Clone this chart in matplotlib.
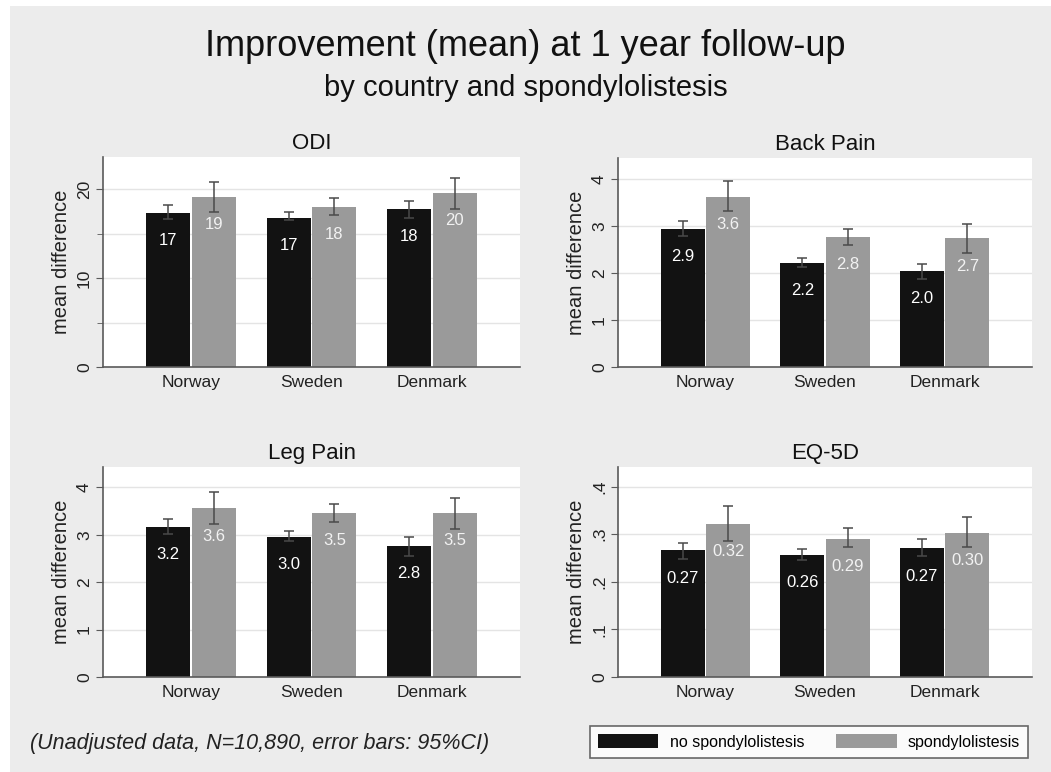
import matplotlib
matplotlib.use("Agg")
import matplotlib.pyplot as plt
from matplotlib.patches import Rectangle, Patch
import numpy as np

plt.rcParams['font.family'] = ['Liberation Sans', 'DejaVu Sans']

countries = ["Norway", "Sweden", "Denmark"]
groups = ["no spondylolistesis", "spondylolistesis"]

panels = ["ODI", "Back Pain", "Leg Pain", "EQ-5D"]

# mean values: [no spondy, spondy] per country
odi_no = [17.3, 16.8, 17.75]
odi_sp = [19.1, 18.0, 19.6]
odi_no_lo = [16.6, 16.5, 16.8]
odi_no_hi = [18.2, 17.4, 18.7]
odi_sp_lo = [17.4, 17.1, 17.8]
odi_sp_hi = [20.8, 18.95, 21.2]

back_no = [2.94, 2.22, 2.04]
back_sp = [3.62, 2.77, 2.74]
back_no_lo = [2.79, 2.13, 1.87]
back_no_hi = [3.11, 2.33, 2.20]
back_sp_lo = [3.33, 2.60, 2.42]
back_sp_hi = [3.96, 2.94, 3.05]

leg_no = [3.16, 2.96, 2.76]
leg_sp = [3.56, 3.47, 3.46]
leg_no_lo = [3.02, 2.87, 2.55]
leg_no_hi = [3.33, 3.08, 2.95]
leg_sp_lo = [3.23, 3.28, 3.12]
leg_sp_hi = [3.91, 3.66, 3.78]

eq_no = [0.266, 0.256, 0.270]
eq_sp = [0.321, 0.290, 0.303]
eq_no_lo = [0.247, 0.245, 0.254]
eq_no_hi = [0.282, 0.269, 0.289]
eq_sp_lo = [0.285, 0.274, 0.272]
eq_sp_hi = [0.359, 0.312, 0.335]

odi_ticks = [0, 10, 20]
odi_ticklabels = ["0", "10", "20"]
odi_minor = [5, 15]
back_ticks = [0, 1, 2, 3, 4]
back_ticklabels = ["0", "1", "2", "3", "4"]
leg_ticks = [0, 1, 2, 3, 4]
leg_ticklabels = ["0", "1", "2", "3", "4"]
eq_ticks = [0, 0.1, 0.2, 0.3, 0.4]
eq_ticklabels = ["0", ".1", ".2", ".3", ".4"]

note = "(Unadjusted data, N=10,890, error bars: 95%CI)"
title = "Improvement (mean) at 1 year follow-up"
subtitle = "by country and spondylolistesis"

W, H = 1051, 772
fig = plt.figure(figsize=(W / 100, H / 100), dpi=100)
fig.patch.set_facecolor("white")
BG = "#ececec"
fig.add_artist(Rectangle((10 / W, 0), 1 - 10 / W, 1 - 6 / H, transform=fig.transFigure,
                         facecolor=BG, edgecolor="none", zorder=-10))

BLACK = "#121212"
GRAY = "#9a9a9a"
ERR = "#4a4a4a"
AX = "#5a5a5a"

def axrect(l, r, t, b):
    return [l / W, 1 - b / H, (r - l) / W, (b - t) / H]

specs = [
    ("ODI", axrect(103, 520, 157, 367), odi_no, odi_sp, odi_no_lo, odi_no_hi, odi_sp_lo, odi_sp_hi,
     23.6, odi_ticks, odi_ticklabels, odi_minor, "{:.0f}"),
    ("Back Pain", axrect(618, 1032, 158, 367), back_no, back_sp, back_no_lo, back_no_hi, back_sp_lo, back_sp_hi,
     4.45, back_ticks, back_ticklabels, [], "{:.1f}"),
    ("Leg Pain", axrect(103, 520, 467, 677), leg_no, leg_sp, leg_no_lo, leg_no_hi, leg_sp_lo, leg_sp_hi,
     4.43, leg_ticks, leg_ticklabels, [], "{:.1f}"),
    ("EQ-5D", axrect(618, 1032, 467, 677), eq_no, eq_sp, eq_no_lo, eq_no_hi, eq_sp_lo, eq_sp_hi,
     0.441, eq_ticks, eq_ticklabels, [], "{:.2f}"),
]

x = np.arange(len(countries))
bw = 0.366
off = 0.19

for (name, rect, v_no, v_sp, no_lo, no_hi, sp_lo, sp_hi, ymax, ticks, tlabels, minor, fmt) in specs:
    ax = fig.add_axes(rect)
    ax.set_facecolor("white")
    ax.set_xlim(-0.73, 2.73)
    ax.set_ylim(0, ymax)
    gridvals = sorted([t for t in ticks if t > 0] + list(minor))
    for g in gridvals:
        ax.axhline(g, color="#e4e4e4", lw=1.0, zorder=0)
    ax.bar(x - off, v_no, bw, color=BLACK, zorder=2)
    ax.bar(x + off, v_sp, bw, color=GRAY, zorder=2)
    v_no_a = np.array(v_no); v_sp_a = np.array(v_sp)
    ax.errorbar(x - off, v_no_a, yerr=[v_no_a - np.array(no_lo), np.array(no_hi) - v_no_a],
                fmt="none", ecolor=ERR, elinewidth=1.1, capsize=3.8, capthick=1.1, zorder=3)
    ax.errorbar(x + off, v_sp_a, yerr=[v_sp_a - np.array(sp_lo), np.array(sp_hi) - v_sp_a],
                fmt="none", ecolor=ERR, elinewidth=1.1, capsize=3.8, capthick=1.1, zorder=3)
    for xi, v in zip(x - off, v_no):
        ax.annotate(fmt.format(v), (xi, v), xytext=(0, -20), textcoords="offset points",
                    ha="center", va="center", color="white", fontsize=12, zorder=4)
    for xi, v in zip(x + off, v_sp):
        ax.annotate(fmt.format(v), (xi, v), xytext=(0, -20), textcoords="offset points",
                    ha="center", va="center", color="#f2f2f2", fontsize=12, zorder=4)
    ax.set_xticks(x)
    ax.set_xticklabels(countries, fontsize=12.5)
    ax.tick_params(axis="x", length=0, pad=6, colors="#222222")
    ax.set_yticks(ticks)
    ax.set_yticklabels(tlabels, rotation=90, va="center", fontsize=12.5)
    if minor:
        ax.set_yticks(minor, minor=True)
        ax.tick_params(axis="y", which="minor", length=4, color=AX)
    ax.tick_params(axis="y", length=5, color=AX, colors="#222222", pad=3)
    ax.tick_params(axis="y", which="major", labelcolor="#222222")
    for s in ["top", "right"]:
        ax.spines[s].set_visible(False)
    for s in ["left", "bottom"]:
        ax.spines[s].set_color(AX)
        ax.spines[s].set_linewidth(1.2)
    ax.set_ylabel("mean difference", fontsize=14.5, color="#222222", labelpad=4)
    ax.set_title(name, fontsize=16, color="#111111", pad=6)

fig.text(0.5, 1 - 47 / H, title, ha="center", va="center", fontsize=26, color="#111111")
fig.text(0.5, 1 - 88 / H, subtitle, ha="center", va="center", fontsize=21, color="#111111")
fig.text(30 / W, 1 - 743 / H, note, ha="left", va="center", fontsize=15.5, style="italic", color="#222222")

handles = [Patch(facecolor=BLACK, edgecolor="none"), Patch(facecolor=GRAY, edgecolor="none")]
leg = fig.legend(handles, groups, loc="center", bbox_to_anchor=(809 / W, 1 - 742 / H), ncol=2,
                 fontsize=11.5, frameon=True, fancybox=False, edgecolor="#444444",
                 handlelength=3.8, handleheight=1.0, handletextpad=0.7, columnspacing=2.0,
                 borderpad=0.5, borderaxespad=0)
leg.get_frame().set_linewidth(1.2)

fig.savefig("out.png", dpi=100, facecolor=fig.get_facecolor())
